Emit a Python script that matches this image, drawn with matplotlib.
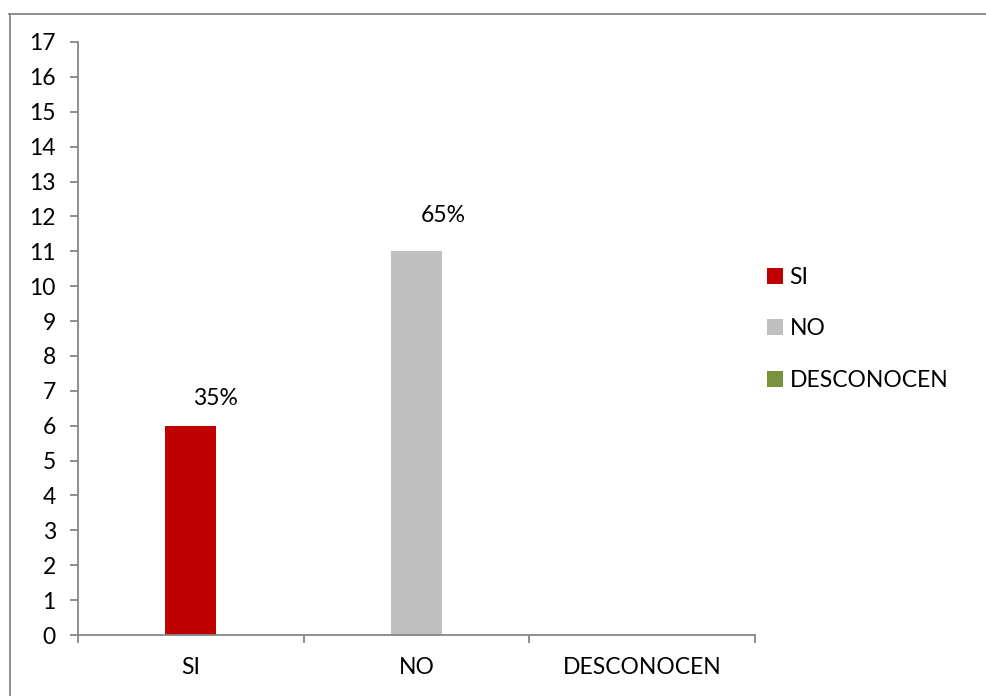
import matplotlib
matplotlib.use("Agg")
import matplotlib.pyplot as plt
from matplotlib.patches import Patch
from matplotlib.lines import Line2D

categories = ["SI", "NO", "DESCONOCEN"]
counts = [6, 11, 0]
colors = ["#C00000", "#BFBFBF", "#77933C"]
yticks = list(range(0, 18))

# offset (points) of each percentage label from its bar top
label_offsets = [12, 18, 12]
label_dx = [17.5, 19, 0]

plt.rcParams["font.family"] = ["Lato", "DejaVu Sans"]
FS = 16.5

fig = plt.figure(figsize=(9.86, 6.96), dpi=100)
ax = fig.add_axes([78 / 986, 1 - 635 / 696, (755 - 78) / 986, (635 - 42) / 696])

x = list(range(len(categories)))
ax.bar(x, counts, width=0.226, color=colors, zorder=2)

total = sum(counts)
for xi, c, dy, dx in zip(x, counts, label_offsets, label_dx):
    if c > 0:
        ax.annotate(f"{round(100 * c / total)}%", (xi, c), xytext=(dx, dy),
                    textcoords="offset points", ha="center", va="bottom",
                    fontsize=FS, color="black")

ax.set_xlim(-0.5, 2.5)
ax.set_ylim(0, 17)
ax.set_yticks(yticks)
ax.tick_params(axis="y", direction="out", length=6, width=1.3, color="#868686",
               labelsize=FS, pad=10)

ax.set_xticks(x)
ax.set_xticklabels(categories)
ax.tick_params(axis="x", length=0, labelsize=FS, pad=16)
# category boundary ticks
ax.set_xticks([-0.5, 0.5, 1.5, 2.5], minor=True)
ax.tick_params(axis="x", which="minor", direction="out", length=6, width=1.3,
               color="#868686")

for side in ["top", "right"]:
    ax.spines[side].set_visible(False)
for side in ["left", "bottom"]:
    ax.spines[side].set_color("#868686")
    ax.spines[side].set_linewidth(1.3)

handles = [Patch(facecolor=col, edgecolor="none") for col in colors]
fig.legend(handles, categories, loc="center left",
           bbox_to_anchor=(746 / 986, 1 - 329 / 696), frameon=False,
           fontsize=FS, handlelength=0.7, handleheight=0.7,
           handletextpad=0.3, labelspacing=1.35)

# outer chart border
fig.add_artist(Line2D([9 / 986, 1.0], [1 - 13.5 / 696] * 2, transform=fig.transFigure,
                      color="#868686", lw=1.3))
fig.add_artist(Line2D([9.5 / 986] * 2, [0, 1 - 13.5 / 696], transform=fig.transFigure,
                      color="#868686", lw=1.3))

fig.savefig("out.png", dpi=100)
